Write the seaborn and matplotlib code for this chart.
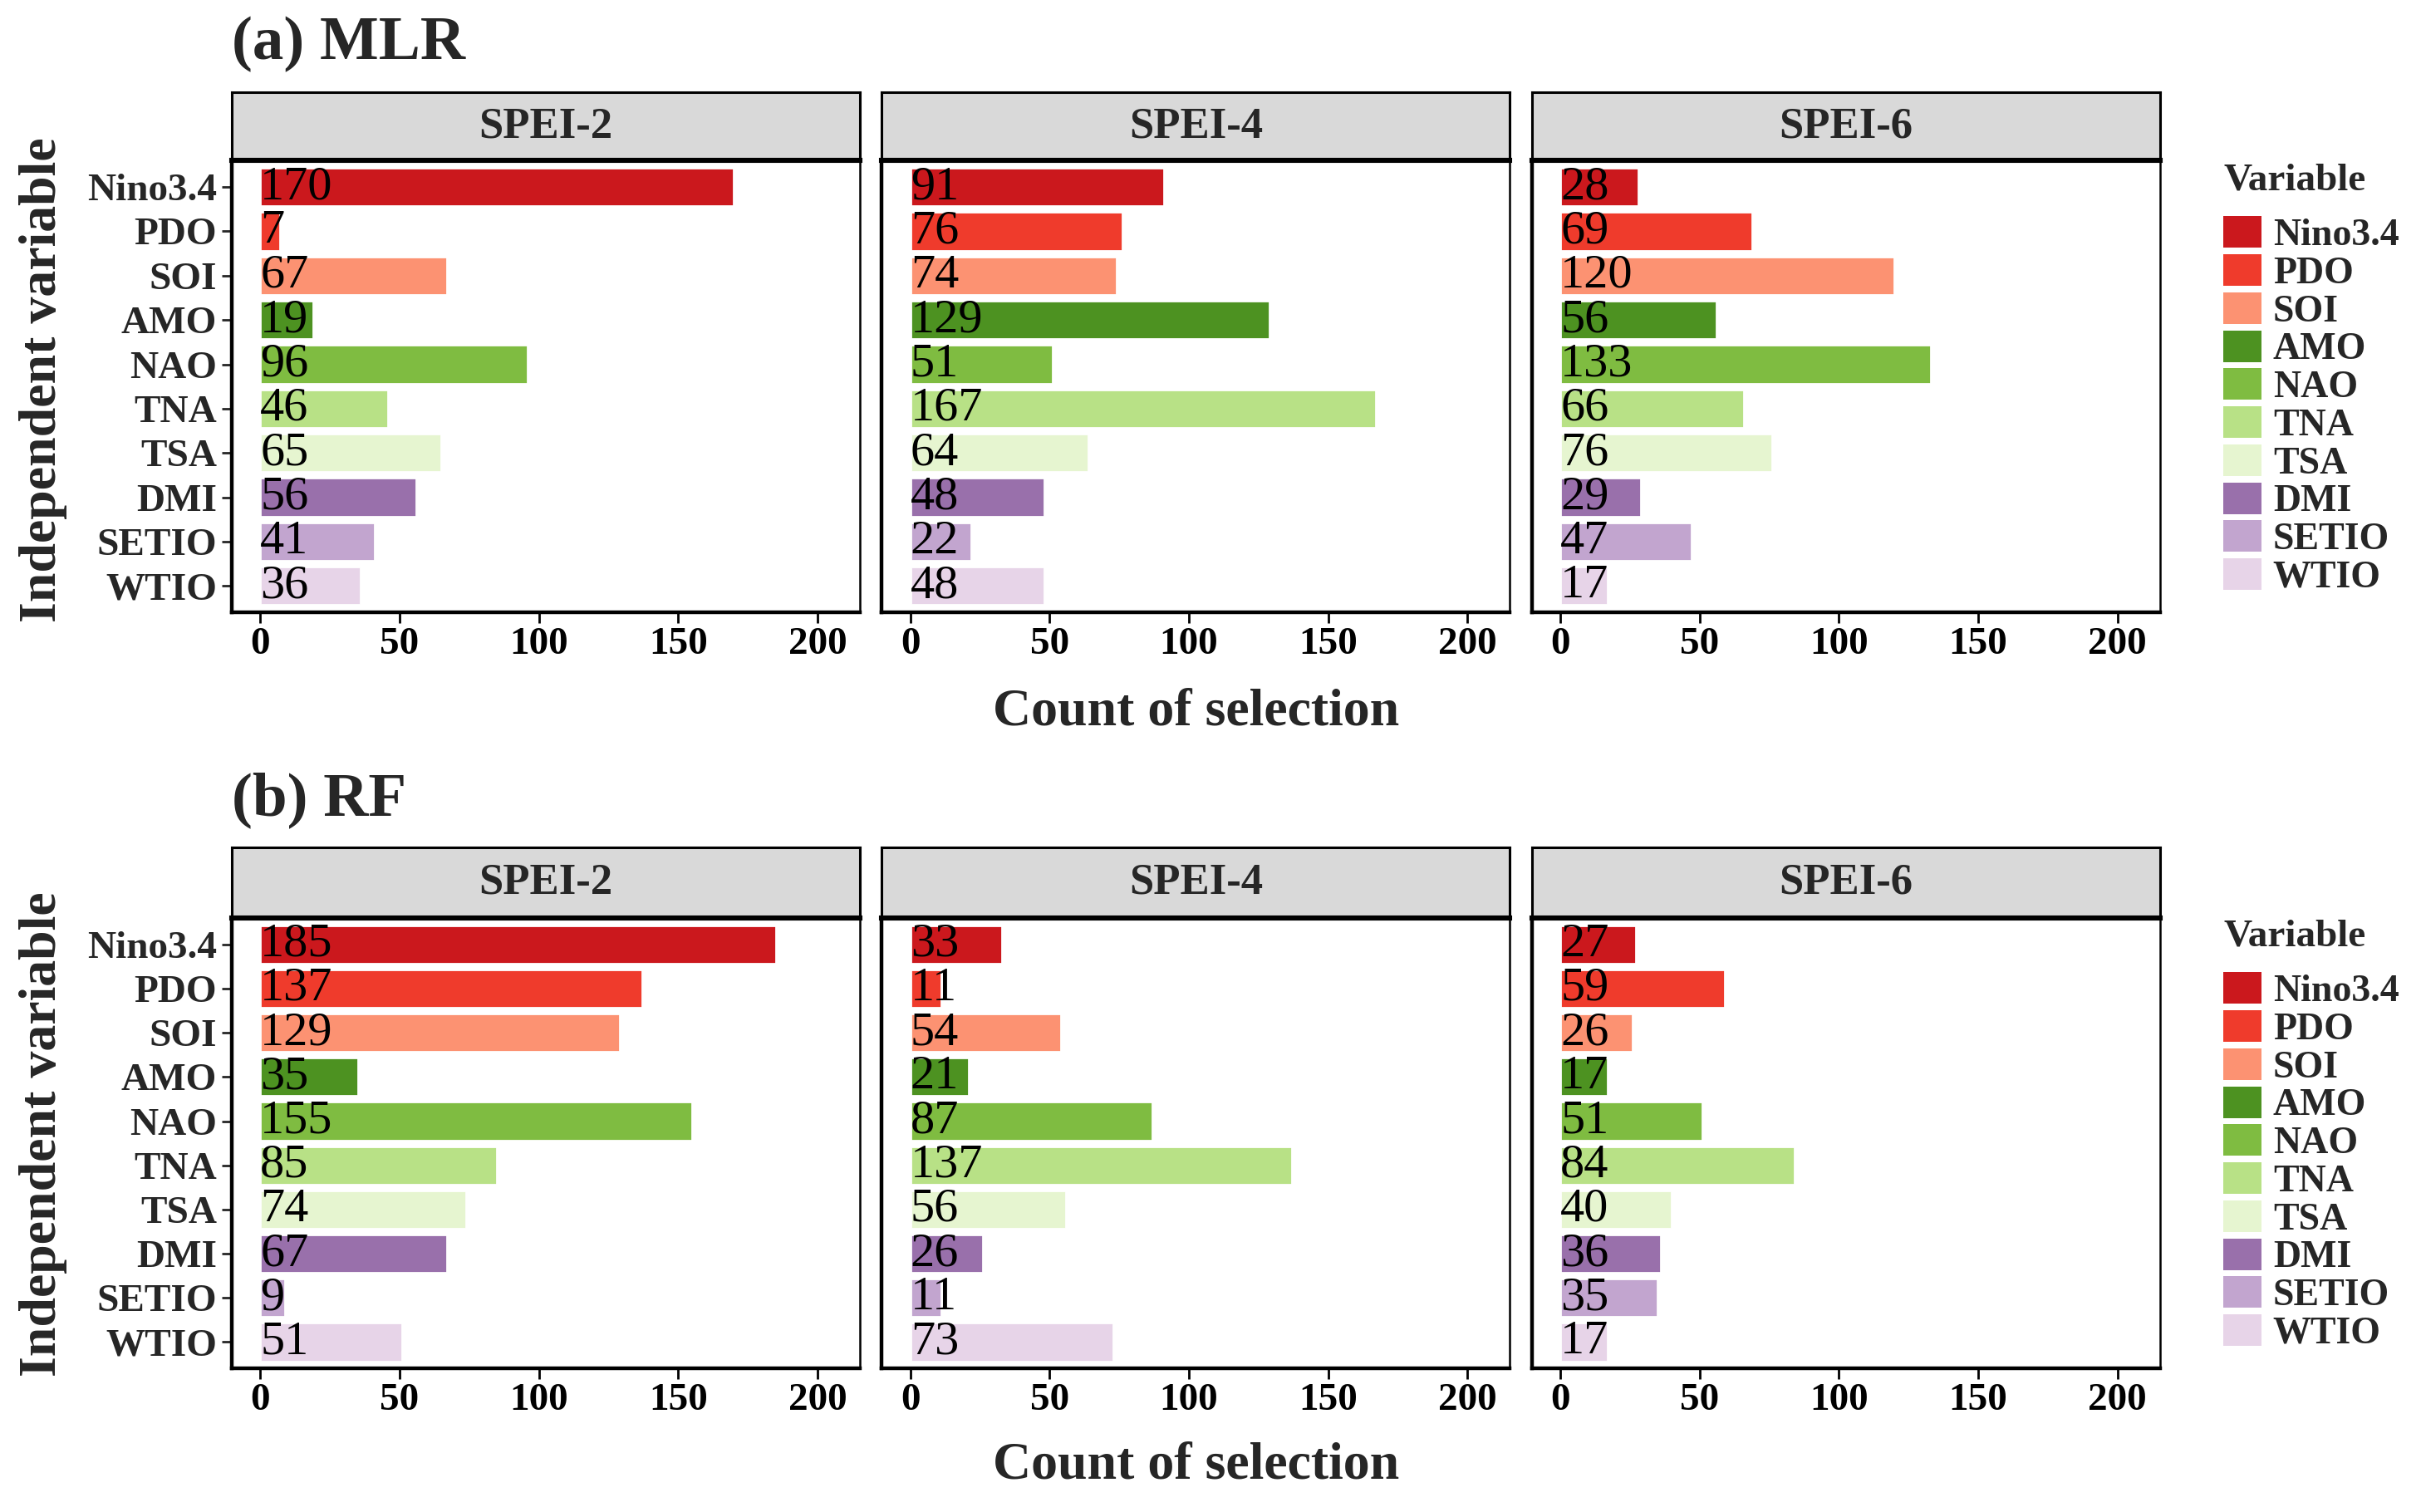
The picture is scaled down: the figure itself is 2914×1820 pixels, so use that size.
import numpy as np
import pandas as pd
import matplotlib
matplotlib.use("Agg")
import matplotlib.pyplot as plt
import seaborn as sns
from matplotlib.patches import Patch

# categories / facets
variables = ["Nino3.4", "PDO", "SOI", "AMO", "NAO", "TNA", "TSA", "DMI", "SETIO", "WTIO"]
scales = ["SPEI-2", "SPEI-4", "SPEI-6"]
colors = ["#CB181D", "#EF3B2C", "#FC9272", "#4D9221", "#7FBC41",
          "#B8E186", "#E6F5D0", "#9970AB", "#C2A5CF", "#E7D4E8"]

# counts of selection, (a) MLR
mlr_spei2 = [170, 7, 67, 19, 96, 46, 65, 56, 41, 36]
mlr_spei4 = [91, 76, 74, 129, 51, 167, 64, 48, 22, 48]
mlr_spei6 = [28, 69, 120, 56, 133, 66, 76, 29, 47, 17]

# counts of selection, (b) RF
rf_spei2 = [185, 137, 129, 35, 155, 85, 74, 67, 9, 51]
rf_spei4 = [33, 11, 54, 21, 87, 137, 56, 26, 11, 73]
rf_spei6 = [27, 59, 26, 17, 51, 84, 40, 36, 35, 17]

x_ticks = [0, 50, 100, 150, 200]

sns.set_style("white")
plt.rcParams["font.family"] = ["Liberation Serif", "DejaVu Serif"]

palette = dict(zip(variables, colors))

fig = plt.figure(figsize=(14.57, 9.1), dpi=200)

col_left = [0.0957, 0.3642, 0.6327]
col_w = 0.2595

rows = [
    dict(title="(a) MLR", data=[mlr_spei2, mlr_spei4, mlr_spei6],
         bottom=0.5949, top=0.8939, strip_top=0.9388, title_y=0.971,
         xlabel_y=0.5286, ylabel_y=0.749, leg_title_y=0.8806, leg_top=0.857),
    dict(title="(b) RF", data=[rf_spei2, rf_spei4, rf_spei6],
         bottom=0.0949, top=0.3929, strip_top=0.4398, title_y=0.471,
         xlabel_y=0.0306, ylabel_y=0.25, leg_title_y=0.3806, leg_top=0.357),
]

for row in rows:
    h = row["top"] - row["bottom"]
    for j, (scale, counts) in enumerate(zip(scales, row["data"])):
        df = pd.DataFrame({"Variable": variables, "Count": counts})
        ax = fig.add_axes([col_left[j], row["bottom"], col_w, h])
        sns.barplot(data=df, x="Count", y="Variable", hue="Variable",
                    order=variables, hue_order=variables, palette=palette,
                    orient="h", width=0.87, dodge=False, legend=False,
                    saturation=1, ax=ax)
        for i, v in enumerate(counts):
            ax.text(0, i, str(v), ha="left", va="center", fontsize=21,
                    color="black")
        ax.set_xlim(-10.25, 215.25)
        ax.set_ylim(len(variables) - 0.4, -0.6)
        ax.set_xticks(x_ticks)
        ax.set_xticklabels([str(t) for t in x_ticks], fontsize=17,
                           fontweight="bold")
        ax.set_xlabel("")
        ax.set_ylabel("")
        if j == 0:
            ax.set_yticks(range(len(variables)))
            ax.set_yticklabels(variables, fontsize=17, fontweight="bold")
            ax.tick_params(axis="y", left=True, length=4.5, width=1,
                           pad=2)
        else:
            ax.set_yticks([])
        ax.tick_params(axis="x", bottom=True, length=4.5, width=1, pad=2,
                       colors="black")
        for side, sp in ax.spines.items():
            sp.set_visible(True)
            sp.set_color("black")
            sp.set_linewidth(1.6 if side in ("bottom", "left") else 0.9)

        # facet strip
        sax = fig.add_axes([col_left[j], row["top"], col_w,
                            row["strip_top"] - row["top"]])
        sax.set_facecolor("#D9D9D9")
        sax.set_xticks([])
        sax.set_yticks([])
        for side, sp in sax.spines.items():
            sp.set_visible(True)
            sp.set_color("black")
            sp.set_linewidth(2.2 if side == "bottom" else 1.1)
        sax.text(0.5, 0.5, scale, ha="center", va="center", fontsize=19,
                 fontweight="bold", transform=sax.transAxes)

    fig.text(col_left[0], row["title_y"], row["title"], ha="left",
             va="center", fontsize=27, fontweight="bold")
    fig.text(0.494, row["xlabel_y"], "Count of selection", ha="center",
             va="center", fontsize=23, fontweight="bold")
    fig.text(0.0179, row["ylabel_y"], "Independent variable", ha="center",
             va="center", rotation=90, fontsize=23, fontweight="bold")

    # legend: title as separate text so the gap above the keys matches
    fig.text(0.9184, row["leg_title_y"], "Variable", ha="left", va="center",
             fontsize=17, fontweight="bold")
    handles = [Patch(facecolor=c, edgecolor="none") for c in colors]
    leg = fig.legend(handles, variables, loc="upper left",
                     bbox_to_anchor=(0.9184, row["leg_top"]),
                     frameon=False, fontsize=16.5,
                     handlelength=1.0, handleheight=0.9, labelspacing=0.02,
                     handletextpad=0.3, borderpad=0, borderaxespad=0)
    for t in leg.get_texts():
        t.set_fontweight("bold")

fig.savefig("out.png", dpi=200)
